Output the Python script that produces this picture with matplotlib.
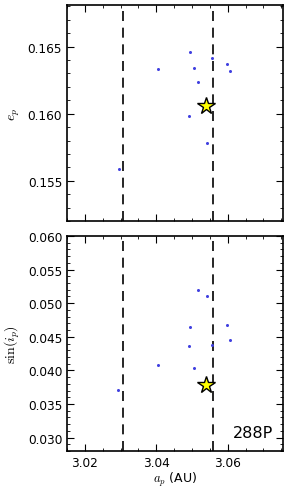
import numpy as np
import matplotlib
matplotlib.use("Agg")
import matplotlib.pyplot as plt
from matplotlib.ticker import MultipleLocator

plt.rcParams['mathtext.fontset'] = 'cm'
plt.rcParams['font.family'] = 'DejaVu Sans'

# clone elements
a_p = [3.0295, 3.0406, 3.0494, 3.0505, 3.0518, 3.0492, 3.0542, 3.0557, 3.0597, 3.0607]
e_p = [0.15584, 0.16330, 0.16456, 0.16337, 0.16236, 0.15986, 0.15784, 0.16414, 0.16372, 0.16320]
# bottom panel points
a_p2 = [3.0294, 3.0406, 3.0518, 3.0541, 3.0494, 3.0492, 3.0505, 3.0557, 3.0597, 3.0607]
sin_i = [0.03713, 0.04074, 0.05193, 0.05104, 0.04639, 0.04356, 0.04030, 0.04371, 0.04668, 0.04455]

# nominal orbit
a_star = 3.0538
e_star = 0.16056
sini_star = 0.03777

# resonance limits
a_lines = [3.0307, 3.0560]

fig = plt.figure(figsize=(2.91, 4.89), dpi=100)
ax1 = fig.add_axes([67/291, 1-222/489, 216/291, 216/489])
ax2 = fig.add_axes([67/291, 1-452/489, 216/291, 215/489])

for ax in (ax1, ax2):
    for a in a_lines:
        ax.axvline(a, color='k', ls=(0, (6, 4)), lw=1.2)
    ax.set_xlim(3.015, 3.0755)
    ax.xaxis.set_major_locator(MultipleLocator(0.02))
    ax.xaxis.set_minor_locator(MultipleLocator(0.005))
    ax.yaxis.set_minor_locator(MultipleLocator(0.001))
    ax.tick_params(which='both', direction='in', top=True, right=True, labelsize=8.7)
    ax.tick_params(which='major', length=5)
    ax.tick_params(which='minor', length=2.5)
    for s in ax.spines.values():
        s.set_linewidth(1.2)

ax1.plot(a_p, e_p, 'o', color='#4040e0', ms=2.2, mec='none')
ax1.plot(a_star, e_star, '*', color='yellow', mec='k', mew=1.0, ms=13)
ax1.set_ylim(0.152, 0.1681)
ax1.yaxis.set_major_locator(MultipleLocator(0.005))
ax1.set_xticklabels([])
ax1.set_ylabel(r'$e_p$', fontsize=10)

ax2.plot(a_p2, sin_i, 'o', color='#4040e0', ms=2.2, mec='none')
ax2.plot(a_star, sini_star, '*', color='yellow', mec='k', mew=1.0, ms=13)
ax2.set_ylim(0.028, 0.060)
ax2.yaxis.set_major_locator(MultipleLocator(0.005))
ax2.set_ylabel(r'$\sin(i_p)$', fontsize=10)
ax2.set_xlabel(r'$a_p$ (AU)', fontsize=9, labelpad=1)
ax2.text(0.955, 0.05, '288P', transform=ax2.transAxes, ha='right', va='bottom', fontsize=11.5)

fig.savefig('out.png', dpi=100)
